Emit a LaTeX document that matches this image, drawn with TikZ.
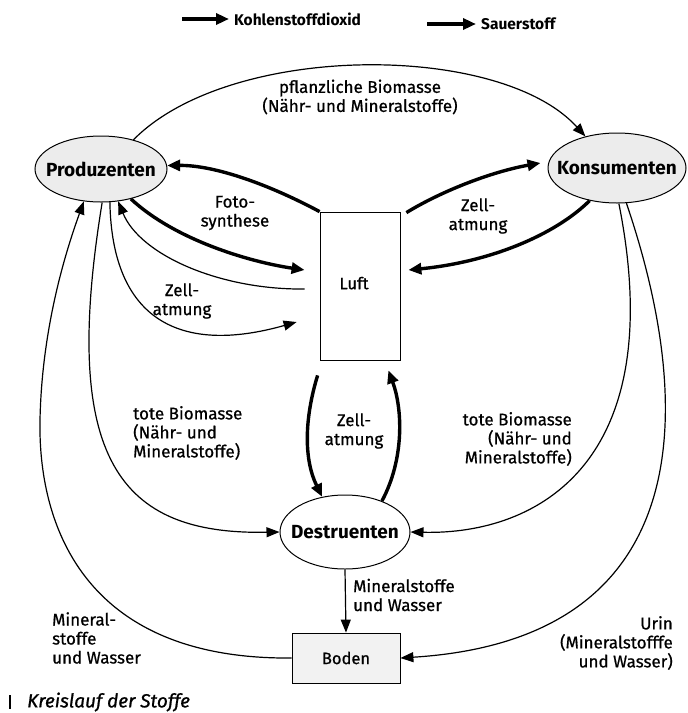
\documentclass[tikz,border=0pt]{standalone}
\usepackage{fontspec}
\setmainfont{Fira Sans}[UprightFeatures={FakeBold=0.7}, ItalicFeatures={FakeBold=0.9}]
\usetikzlibrary{arrows.meta,positioning,shapes.geometric,calc}

\begin{document}
\begin{tikzpicture}[
    x=1pt, y=-1pt, % Koordinaten wie Pixel, y nach unten
    % Stile fuer die Knoten
    organism/.style={ellipse, draw, line width=1pt, inner sep=0pt, font=\fontsize{19}{22}\selectfont\bfseries},
    grayorganism/.style={organism, fill=gray!15},
    medium/.style={rectangle, draw, line width=0.8pt, inner sep=0pt, font=\fontsize{16.5}{19}\selectfont},
    % Stile fuer die Verbindungen
    flow/.style={-{Triangle[length=13pt,width=10pt]}, line width=1.2pt},
    bigflow/.style={-{Triangle[length=13pt,width=11pt]}, line width=3.4pt},
    % Stile fuer den Text
    labeltext/.style={font=\fontsize{17}{19}\selectfont, inner sep=0pt},
    legendtext/.style={font=\fontsize{15.5}{18}\selectfont\bfseries, anchor=west, inner sep=5pt}
]
\path[use as bounding box, fill=white] (0,0) rectangle (688,713);

% === LEGENDE ===
\coordinate (co2start) at (182,19);
\node[legendtext] (co2text) at (229,19) {Kohlenstoffdioxid};
\draw[bigflow] (co2start) -- (co2text.west);
\coordinate (o2start) at (427,24);
\node[legendtext] (o2text) at (476,24) {Sauerstoff};
\draw[bigflow] (o2start) -- (o2text.west);

% === LEBEWESEN UND SPEICHER ===
\node[grayorganism, minimum width=132pt, minimum height=66pt] (prod) at (101,169) {\makebox[0pt]{Produzenten}};
\node[grayorganism, minimum width=138pt, minimum height=70pt] (kons) at (617,168) {\makebox[0pt]{Konsumenten}};
\node[organism, minimum width=130pt, minimum height=74pt] (destr) at (345,532) {\makebox[0pt]{Destruenten}};
\node[medium, minimum width=80pt, minimum height=148pt] (luft) at (360,286) {\makebox[0pt]{\hspace*{-12pt}\raisebox{6pt}{Luft}}};
\node[medium, fill=gray!10, minimum width=108pt, minimum height=50pt] (boden) at (346,658) {Boden};

% === BIOMASSE ===
\draw[flow] (prod.42) .. controls (230,42) and (500,42) .. (kons.135);
\node[labeltext, align=center] (pbm) at (360,97) {pflanzliche Biomasse\\(Nähr- und Mineralstoffe)};

% === FOTOSYNTHESE ===
\draw[bigflow] (luft.north west) .. controls (270,185) and (215,165) .. (prod.3);
\coordinate (luftin1) at ($(luft.west)+(-15,-16)$);
\draw[bigflow] (prod.-45) .. controls (175,240) and (250,262) .. (luftin1);
\node[labeltext, align=center] (fs) at (235,213) {Foto-\\synthese};

% === ZELLATMUNG ===
% Produzenten
\coordinate (luftout1) at ($(luft.west)+(-15,3)$);
\draw[flow] (luftout1) .. controls (220,290) and (140,255) .. (prod.-62);
\coordinate (luftin2) at ($(luft.west)+(-23,36)$);
\draw[flow] (prod.-75) .. controls (112,320) and (180,355) .. (luftin2);
\node[labeltext, align=center] (zaP) at (182,301) {Zell-\\atmung};
% Konsumenten
\coordinate (luftout3) at ($(luft.north east)+(6,1)$);
\coordinate (konsin) at ($(kons.west)+(-7,-5)$);
\draw[bigflow] (luftout3) .. controls (440,192) and (490,172) .. (konsin);
\coordinate (luftin3) at ($(luft.east)+(8,-16)$);
\draw[bigflow] (kons.-130) .. controls (555,235) and (490,262) .. (luftin3);
\node[labeltext, align=center] (zaK) at (478,216) {Zell-\\atmung};
% Destruenten
\coordinate (luftout2) at ($(luft.south west)+(-2,15)$);
\draw[bigflow] (luftout2) .. controls (304,420) and (304,460) .. (destr.123);
\coordinate (luftin4) at ($(luft.south east)+(-12,10)$);
\draw[bigflow] (destr.40) .. controls (404,460) and (403,410) .. (luftin4);
\node[labeltext, align=center] (zaD) at (354,431) {Zell-\\atmung};

% === TOTE BIOMASSE ===
\draw[flow] (prod.-88) .. controls (60,460) and (120,535) .. (destr.west);
\draw[flow] (kons.-87) .. controls (670,460) and (540,535) .. (destr.east);
\node[labeltext, align=left, anchor=west] (tbP) at (133,433) {tote Biomasse\\(Nähr- und\\Mineralstoffe)};
\node[labeltext, align=right, anchor=east] (tbK) at (572,439) {tote Biomasse\\(Nähr- und\\Mineralstoffe)};

% === MINERALSTOFFE UND WASSER ===
\draw[flow] (destr.south) -- (boden.north);
\node[labeltext, align=left, anchor=west] (mwD) at (353,595) {Mineralstoffe\\und Wasser};
\draw[flow] (kons.-75) .. controls (700,420) and (690,640) .. (boden.east);
\node[labeltext, align=right, anchor=east] (urin) at (673,643) {Urin\\(Mineralstofffe\\und Wasser)};
\coordinate (bogen) at (40,420);
\draw[flow] (boden.west) .. controls (80,660) and (38,520) .. (bogen) .. controls (42,320) and (70,240) .. (prod.-118);
\node[labeltext, align=left, anchor=west] (mwP) at (52,638) {Mineral-\\stoffe\\und Wasser};

% === TITEL ===
\draw[line width=2.2pt] (10,695) -- (10,709);
\node[labeltext, anchor=west, font=\fontsize{19}{21}\selectfont\itshape] (titel) at (27,702) {Kreislauf der Stoffe};

\end{tikzpicture}
\end{document}
